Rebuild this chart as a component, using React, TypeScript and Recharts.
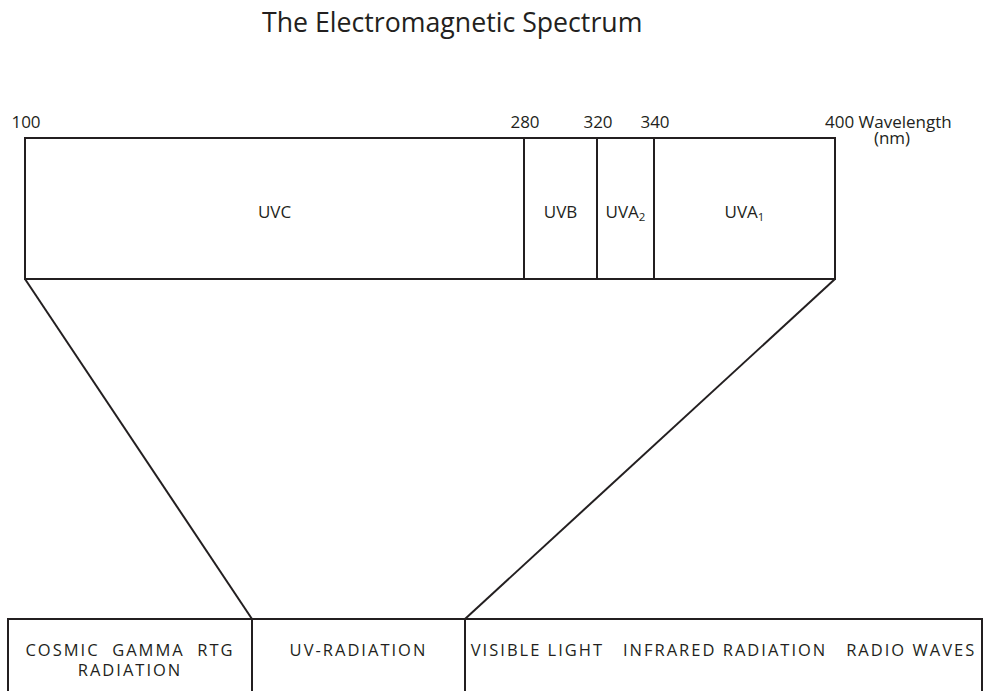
import { ComposedChart, XAxis, YAxis, ReferenceArea, ReferenceLine, Scatter } from "recharts";

const INK = "#231f20";
const FONT = "'Open Sans', 'Noto Sans', sans-serif";

// wavelength scale printed above the UV band (nm)
const wavelengthTicks = [100, 280, 320, 340, 400];
const axisCaption = ["Wavelength", "(nm)"];

// UV sub-bands and their drawn widths (the band is not to scale)
const uvBands = ["UVC", "UVB", "UVA", "UVA"];
const uvSubscripts = ["", "", "2", "1"];
const uvBandWidths = [499, 73, 57, 181];

// full spectrum strip at the bottom
const spectrumLabels = [
  ["COSMIC  GAMMA  RTG", "RADIATION"],
  ["UV-RADIATION"],
  ["VISIBLE LIGHT   INFRARED RADIATION   RADIO WAVES"],
];
const spectrumWidths = [244, 213, 517];

const W = 987;
const H = 691;
const UV_LEFT = 25;
const UV_TOP = 138;
const UV_BOTTOM = 279;
const SPEC_LEFT = 8;
const SPEC_TOP = 619;
const TICK_ROW = 128;

const edges = (start: number, widths: number[]) =>
  widths.reduce((acc, w) => [...acc, acc[acc.length - 1] + w], [start]);

const uvEdges = edges(UV_LEFT, uvBandWidths);
const specEdges = edges(SPEC_LEFT, spectrumWidths);

const tickData = wavelengthTicks.map((nm, i) => ({
  x: uvEdges[i],
  y: TICK_ROW,
  nm,
  last: i === wavelengthTicks.length - 1,
}));

function UvLabel({ viewBox, text, sub }: any) {
  const { x, y, width, height } = viewBox;
  return (
    <text x={x + width / 2} y={y + height / 2 + 9} textAnchor="middle" fontSize={17} fill={INK} fontFamily={FONT}>
      {text}
      {sub ? (
        <tspan fontSize={11.5} dy={3}>
          {sub}
        </tspan>
      ) : null}
    </text>
  );
}

function SpectrumLabel({ viewBox, lines }: any) {
  const { x, width } = viewBox;
  return (
    <text
      x={x + width / 2}
      y={656}
      textAnchor="middle"
      fontSize={16.5}
      letterSpacing={2}
      fill={INK}
      fontFamily={FONT}
      style={{ whiteSpace: "pre" }}
    >
      {lines.map((l: string, i: number) => (
        <tspan key={i} x={x + width / 2} dy={i === 0 ? 0 : 20}>
          {l}
        </tspan>
      ))}
    </text>
  );
}

function TickLabel(props: any) {
  const { cx, cy, payload } = props;
  if (payload.last) {
    return (
      <g fill={INK} fontFamily={FONT} fontSize={17}>
        <text x={cx - 10} y={cy} textAnchor="start">
          {`${payload.nm} ${axisCaption[0]}`}
        </text>
        <text x={cx + 57} y={cy + 16} textAnchor="middle">
          {axisCaption[1]}
        </text>
      </g>
    );
  }
  return (
    <text x={cx + 1} y={cy} textAnchor="middle" fill={INK} fontFamily={FONT} fontSize={17}>
      {payload.nm}
    </text>
  );
}

export default function App() {
  return (
    <div style={{ position: "absolute", left: 0, top: 0, width: W, height: H, background: "#fff" }}>
      <div
        style={{
          position: "absolute",
          left: 262,
          top: 3,
          fontFamily: FONT,
          fontSize: 26.7,
          color: INK,
          whiteSpace: "nowrap",
        }}
      >
        The Electromagnetic Spectrum
      </div>
      <ComposedChart width={W} height={H} margin={{ top: 0, right: 0, bottom: 0, left: 0 }}>
        <XAxis type="number" dataKey="x" domain={[0, W]} hide allowDataOverflow />
        <YAxis type="number" dataKey="y" domain={[0, H]} reversed hide allowDataOverflow />

        {uvBands.map((b, i) => (
          <ReferenceArea
            key={`uv-${i}`}
            x1={uvEdges[i]}
            x2={uvEdges[i + 1]}
            y1={UV_TOP}
            y2={UV_BOTTOM}
            fill="none"
            stroke={INK}
            strokeWidth={2}
            ifOverflow="visible"
            label={<UvLabel text={b} sub={uvSubscripts[i]} />}
          />
        ))}

        {spectrumLabels.map((lines, i) => (
          <ReferenceArea
            key={`spec-${i}`}
            x1={specEdges[i]}
            x2={specEdges[i + 1]}
            y1={SPEC_TOP}
            y2={H + 20}
            fill="none"
            stroke={INK}
            strokeWidth={2}
            ifOverflow="visible"
            label={<SpectrumLabel lines={lines} />}
          />
        ))}

        <ReferenceLine
          segment={[
            { x: uvEdges[0], y: UV_BOTTOM },
            { x: specEdges[1], y: SPEC_TOP },
          ]}
          stroke={INK}
          strokeWidth={2}
          ifOverflow="visible"
        />
        <ReferenceLine
          segment={[
            { x: uvEdges[uvEdges.length - 1], y: UV_BOTTOM },
            { x: specEdges[2], y: SPEC_TOP },
          ]}
          stroke={INK}
          strokeWidth={2}
          ifOverflow="visible"
        />

        <Scatter data={tickData} isAnimationActive={false} shape={TickLabel} />
      </ComposedChart>
    </div>
  );
}
